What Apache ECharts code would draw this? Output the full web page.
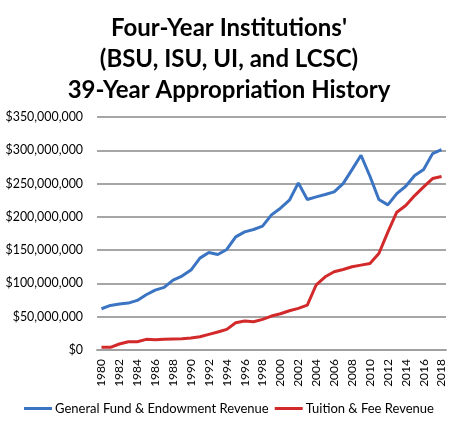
<!DOCTYPE html>
<html>
<head>
<meta charset="utf-8">
<script src="https://cdn.jsdelivr.net/npm/echarts@6/dist/echarts.min.js"></script>
<style>
html,body{margin:0;padding:0;background:#fff;}
#chart{width:458px;height:427px;}
</style>
</head>
<body>
<div id="chart"></div>
<script>
const years = ['1980','1981','1982','1983','1984','1985','1986','1987','1988','1989',
  '1990','1991','1992','1993','1994','1995','1996','1997','1998','1999',
  '2000','2001','2002','2003','2004','2005','2006','2007','2008','2009',
  '2010','2011','2012','2013','2014','2015','2016','2017','2018'];

// values in millions of dollars
const generalFund = [62, 67, 69, 70.5, 74.5, 83, 90, 94, 105, 111,
  120, 138, 146.5, 143.5, 151, 170, 177.5, 181, 186, 203,
  213, 225, 251, 226, 230, 233.5, 237.5, 250, 271, 292.5,
  261, 226, 218, 235, 246, 262, 271, 295, 301];

const tuitionFee = [4, 4, 9, 12.5, 12.5, 16, 15.5, 16, 16.5, 17,
  18, 20, 23.5, 27, 31, 41, 43.5, 42.5, 46, 51,
  54.5, 59, 62.5, 67.5, 98, 110, 117.5, 121, 125, 127.5,
  130, 145, 177, 207, 217, 232, 245, 257.5, 260.5];

const yTicks = [0, 50, 100, 150, 200, 250, 300, 350];

const seriesNames = ['General Fund & Endowment Revenue', 'Tuition & Fee Revenue'];
const titleText = "Four-Year Institutions'\n(BSU, ISU, UI, and LCSC)\n39-Year Appropriation History";

const chart = echarts.init(document.getElementById('chart'));
const fontFam = 'Lato, "Open Sans", sans-serif';
chart.setOption({
  animation: false,
  backgroundColor: '#fff',
  title: {
    text: titleText,
    left: 'center',
    top: 8,
    textStyle: {
      fontFamily: fontFam,
      fontWeight: 'bold',
      fontSize: 24,
      lineHeight: 31,
      color: '#000'
    }
  },
  legend: {
    bottom: 7,
    left: 'center',
    itemWidth: 28,
    itemHeight: 3,
    itemGap: 6,
    icon: 'rect',
    textStyle: { fontFamily: fontFam, fontSize: 13, color: '#000', padding: [0,0,0,-2] },
    data: seriesNames
  },
  grid: { left: 97, right: 12, top: 117, bottom: 77, containLabel: false },
  xAxis: {
    type: 'category',
    data: years,
    boundaryGap: true,
    axisLine: { lineStyle: { color: '#a0a0a0', width: 1.8 } },
    axisTick: { show: false },
    axisLabel: {
      interval: 1,
      rotate: 90,
      fontFamily: fontFam,
      fontSize: 12,
      color: '#000',
      margin: 9
    }
  },
  yAxis: {
    type: 'value',
    min: yTicks[0] * 1e6,
    max: yTicks[yTicks.length - 1] * 1e6,
    interval: 50e6,
    axisLine: { show: false },
    axisTick: { show: false },
    splitLine: { lineStyle: { color: '#a6a6a6', width: 1.8 } },
    axisLabel: {
      fontFamily: fontFam,
      fontSize: 12.4,
      color: '#000',
      margin: 14,
      formatter: function (v) { return v === 0 ? '$0' : '$' + v.toLocaleString('en-US'); }
    }
  },
  series: [
    {
      name: seriesNames[0],
      type: 'line',
      data: generalFund.map(v => v * 1e6),
      symbol: 'none',
      lineStyle: { color: '#3B74C2', width: 3 },
      itemStyle: { color: '#3B74C2' }
    },
    {
      name: seriesNames[1],
      type: 'line',
      data: tuitionFee.map(v => v * 1e6),
      symbol: 'none',
      lineStyle: { color: '#D2292B', width: 3 },
      itemStyle: { color: '#D2292B' }
    }
  ]
});
</script>
</body>
</html>
